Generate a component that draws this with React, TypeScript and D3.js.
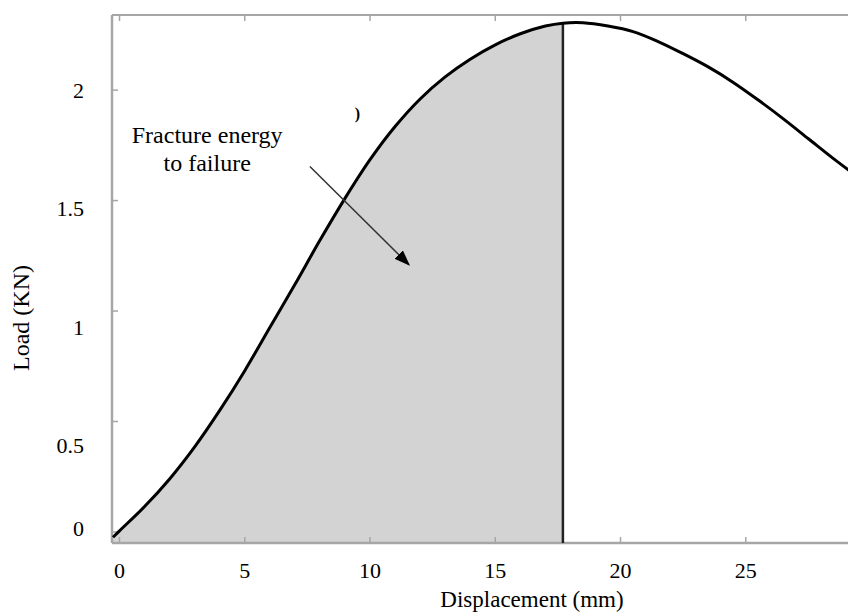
import React from "react";
import * as d3 from "d3";

// Data
const DISP = [-0.26, 0, 1, 2, 3, 4, 5, 6, 7, 8, 9, 10, 11, 12, 13, 14, 15, 16, 17, 17.7, 18.5, 19.5, 20.5, 21.5, 22.5, 23.5, 24.5, 25.5, 26.5, 27.5, 28.5, 29.5];
const LOAD = [-0.024, 0.005, 0.115, 0.24, 0.385, 0.55, 0.73, 0.925, 1.12, 1.32, 1.51, 1.685, 1.835, 1.96, 2.06, 2.14, 2.205, 2.255, 2.29, 2.303, 2.305, 2.29, 2.265, 2.22, 2.165, 2.105, 2.035, 1.955, 1.87, 1.78, 1.69, 1.605];
const FAILURE_X = 17.7;
const X_TICKS = [0, 5, 10, 15, 20, 25];
const Y_TICKS = [0, 0.5, 1, 1.5, 2];
const Y_TICK_LABELS = ["0", "0.5", "1", "1.5", "2"];
const ANNOT_LINES = ["Fracture energy", "to failure"];
const ANNOT_POS = [3.5, 1.76]; // data coords of first line baseline
const ARROW_FROM = [7.6, 1.654];
const ARROW_TO = [11.55, 1.21];
const MARK_POS = [9.5, 1.87];

const W = 848;
const H = 613;
const FONT = "'Liberation Serif', 'Times New Roman', serif";

export default function App() {
  const x = d3.scaleLinear().domain([-0.3, 29.6]).range([112, 861]);
  const y = d3.scaleLinear().domain([-0.05, 2.34]).range([543, 15]);
  const yLabel = d3
    .scaleLinear()
    .domain([0, 0.5, 2])
    .range([y(0) - 4, y(0.5) + 24, y(2)]);

  const pts: [number, number][] = DISP.map((d, i) => [d, LOAD[i]]);
  const curve = d3.curveCatmullRom.alpha(0.5);
  const line = d3
    .line<[number, number]>()
    .x((d) => x(d[0]))
    .y((d) => y(d[1]))
    .curve(curve);
  const area = d3
    .area<[number, number]>()
    .x((d) => x(d[0]))
    .y0(y(-0.05))
    .y1((d) => y(d[1]))
    .curve(curve);
  const areaPts = pts.filter((p) => p[0] <= FAILURE_X);
  const failLoad = LOAD[DISP.indexOf(FAILURE_X)];

  const x0 = x.range()[0];
  const yTop = y.range()[1];
  const yBot = y.range()[0];
  const axisColor = "#a6a6a6";
  const tickLen = 6;

  return (
    <svg
      width={W}
      height={H}
      style={{ position: "absolute", left: 0, top: 0, background: "#fff" }}
    >
      <defs>
        <marker
          id="arrowhead"
          viewBox="0 0 10 10"
          refX="9"
          refY="5"
          markerWidth="16"
          markerHeight="12"
          markerUnits="userSpaceOnUse"
          orient="auto"
          preserveAspectRatio="none"
        >
          <path d="M0,0 L10,5 L0,10 z" fill="#000" />
        </marker>
      </defs>
      <rect x={0} y={0} width={W} height={H} fill="#fff" />
      {/* fracture energy area */}
      <path d={area(areaPts) || ""} fill="#d3d3d3" />
      {/* axes frame */}
      <line x1={x0} x2={W} y1={yTop} y2={yTop} stroke={axisColor} strokeWidth={2} />
      <line x1={x0} x2={W} y1={yBot} y2={yBot} stroke={axisColor} strokeWidth={2.5} />
      <line x1={x0} x2={x0} y1={yTop} y2={yBot} stroke={axisColor} strokeWidth={2.5} />
      {X_TICKS.map((t) => (
        <g key={"xt" + t}>
          <line x1={x(t)} x2={x(t)} y1={yBot} y2={yBot - tickLen} stroke={axisColor} strokeWidth={1.5} />
          <line x1={x(t)} x2={x(t)} y1={yTop} y2={yTop + tickLen} stroke={axisColor} strokeWidth={1.5} />
          <text
            x={x(t)}
            y={578}
            textAnchor="middle"
            fontFamily={FONT}
            fontSize={22}
            fill="#000"
          >
            {t}
          </text>
        </g>
      ))}
      {Y_TICKS.map((t, i) => (
        <g key={"yt" + t}>
          <line x1={x0} x2={x0 + tickLen} y1={y(t)} y2={y(t)} stroke={axisColor} strokeWidth={1.5} />
          <text
            x={84}
            y={yLabel(t)}
            dy="0.35em"
            textAnchor="end"
            fontFamily={FONT}
            fontSize={22}
            fill="#000"
          >
            {Y_TICK_LABELS[i]}
          </text>
        </g>
      ))}
      {/* failure vertical line */}
      <line
        x1={x(FAILURE_X)}
        x2={x(FAILURE_X)}
        y1={y(failLoad)}
        y2={yBot}
        stroke="#222"
        strokeWidth={2.5}
      />
      {/* curve */}
      <path d={line(pts) || ""} fill="none" stroke="#000" strokeWidth={3} />
      {/* annotation */}
      {ANNOT_LINES.map((s, i) => (
        <text
          key={s}
          x={x(ANNOT_POS[0])}
          y={y(ANNOT_POS[1]) + i * 28}
          textAnchor="middle"
          fontFamily={FONT}
          fontSize={24}
          fill="#000"
        >
          {s}
        </text>
      ))}
      <line
        x1={x(ARROW_FROM[0])}
        y1={y(ARROW_FROM[1])}
        x2={x(ARROW_TO[0])}
        y2={y(ARROW_TO[1])}
        stroke="#333"
        strokeWidth={1.5}
        markerEnd="url(#arrowhead)"
      />
      <text
        x={x(MARK_POS[0])}
        y={y(MARK_POS[1])}
        textAnchor="middle"
        fontFamily={FONT}
        fontSize={16}
        fontWeight="bold"
        fill="#000"
      >
        )
      </text>
      {/* axis titles */}
      <text
        x={532}
        y={607}
        textAnchor="middle"
        fontFamily={FONT}
        fontSize={23}
        fill="#000"
      >
        Displacement (mm)
      </text>
      <text
        transform={`translate(29, 318) rotate(-90)`}
        textAnchor="middle"
        fontFamily={FONT}
        fontSize={24}
        fill="#000"
      >
        Load (KN)
      </text>
    </svg>
  );
}
